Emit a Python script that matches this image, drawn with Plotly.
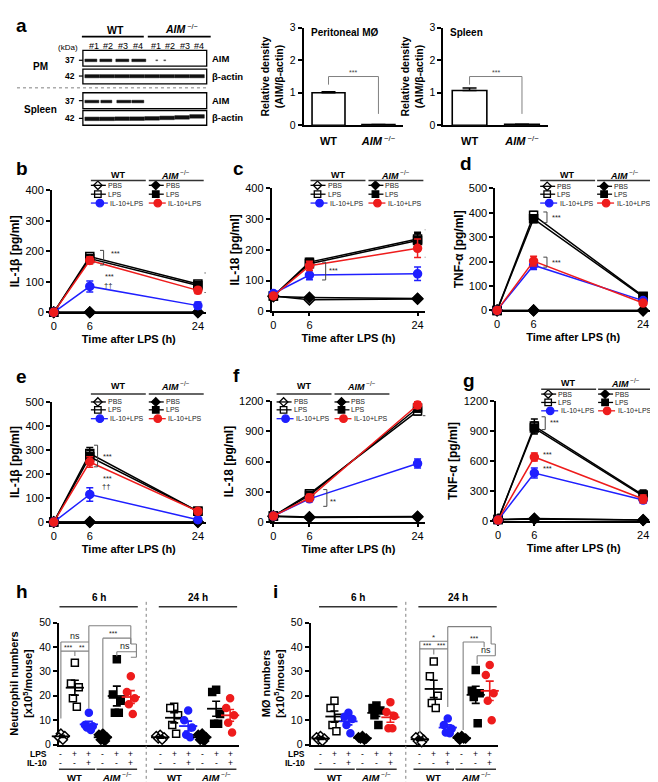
import plotly.graph_objects as go

W, H = 658, 782
FONT = "Arial, Liberation Sans, Helvetica, sans-serif"
BLACK = "#000000"
BLUE = "#1f1fff"
RED = "#ee1c1c"
GRAY = "#808080"

# ---------------- data ----------------
bar_groups = ["WT", "AIM-/-"]
pm_density = [1.00, 0.02]
pm_sem = [0.03, 0.0]
spleen_density = [1.07, 0.03]
spleen_sem = [0.08, 0.0]

times = [0, 6, 24]
series = ["WT PBS", "WT LPS", "WT IL-10+LPS", "AIM PBS", "AIM LPS", "AIM IL-10+LPS"]

# panel b: IL-1beta
b_mean = [[0, 0, 0], [0, 183, 93], [0, 85, 22], [0, 0, 0], [0, 176, 88], [0, 170, 72]]
b_sem = [[0, 0, 0], [0, 10, 8], [0, 18, 12], [0, 0, 0], [0, 10, 8], [0, 12, 10]]
# panel c: IL-18
c_mean = [[50, 38, 40], [50, 160, 235], [58, 118, 122], [48, 45, 42], [50, 155, 230], [50, 148, 205]]
c_sem = [[3, 3, 3], [3, 12, 22], [3, 15, 22], [3, 3, 3], [3, 12, 22], [3, 15, 30]]
# panel d: TNF-alpha
d_mean = [[0, 0, 0], [0, 390, 58], [0, 185, 40], [0, 0, 0], [0, 375, 55], [0, 202, 30]]
d_sem = [[0, 0, 0], [0, 15, 6], [0, 18, 8], [0, 0, 0], [0, 15, 6], [0, 20, 8]]
# panel e: IL-1beta
e_mean = [[0, 0, 0], [0, 285, 45], [0, 115, 10], [0, 0, 0], [0, 272, 45], [0, 250, 45]]
e_sem = [[0, 0, 0], [0, 25, 8], [0, 28, 3], [0, 0, 0], [0, 25, 8], [0, 22, 10]]
# panel f: IL-18
f_mean = [[60, 50, 55], [60, 280, 1100], [60, 230, 580], [55, 45, 50], [60, 265, 1130], [60, 240, 1160]]
f_sem = [[5, 10, 10], [5, 30, 40], [5, 25, 45], [5, 10, 10], [5, 30, 40], [5, 35, 35]]
# panel g: TNF-alpha
g_mean = [[15, 25, 10], [15, 950, 260], [10, 480, 210], [15, 20, 10], [15, 930, 250], [10, 640, 220]]
g_sem = [[5, 5, 3], [5, 70, 50], [5, 50, 30], [5, 5, 3], [5, 60, 50], [5, 40, 40]]

# panels h, i: individual mice, group order = series
lps_signs = ["-", "+", "+"]
il10_signs = ["-", "-", "+"]
neut_6h = [[4.5, 4, 3.5, 3, 2], [33.5, 25, 23.5, 19, 15.5], [13, 8, 7.5, 7, 6],
           [4.5, 4, 3, 2, 1.5], [35, 20.5, 18, 13, 13], [28, 21.5, 19, 16.5, 12.5]]
neut_24h = [[4, 3.5, 3, 2.5, 2], [15.5, 15, 12, 8, 4.5], [14, 10, 7, 4, 3],
            [4.5, 4, 3, 2, 1.5], [22.5, 21.5, 12.5, 8.5, 8.5], [19, 15, 12, 9, 5]]
mac_6h = [[3.5, 3, 2.5, 2, 1.5], [18, 15, 11, 8, 5.5], [13, 11.4, 10.5, 8, 4.7],
          [3.5, 3, 2.5, 2.5, 2], [16, 15, 14, 12, 8], [17.4, 13.4, 11.7, 6.7, 6.7]]
mac_24h = [[3.5, 3, 2, 1.5, 1], [34, 28, 20, 17, 15], [10.7, 8, 6.5, 5, 4.7],
           [3.5, 3, 2.5, 2, 2.5], [30.6, 22.1, 21, 19.5, 8.7], [32.6, 28.5, 21, 18, 10]]

# ---------------- helpers ----------------
fig = go.Figure()
layout = {}
shapes = []
annotations = []


def xdom(x0, x1):
    return [x0 / W, x1 / W]


def ydom(top, bottom):
    return [1 - bottom / H, 1 - top / H]


def PX(x):
    return x / W


def PY(y):
    return 1 - y / H


def text(x, y, s, size=9, color=BLACK, xanchor="center", yanchor="middle",
         xref="paper", yref="paper", textangle=0):
    if xref == "paper":
        x = PX(x)
    if yref == "paper":
        y = PY(y)
    annotations.append(dict(x=x, y=y, xref=xref, yref=yref, text=s, showarrow=False,
                            font=dict(family=FONT, size=size, color=color),
                            xanchor=xanchor, yanchor=yanchor, textangle=textangle))


def seg(x0, y0, x1, y1, color=BLACK, width=1.0, dash="solid", xref="paper", yref="paper"):
    if xref == "paper":
        x0, x1 = PX(x0), PX(x1)
    if yref == "paper":
        y0, y1 = PY(y0), PY(y1)
    shapes.append(dict(type="line", x0=x0, y0=y0, x1=x1, y1=y1, xref=xref, yref=yref,
                       line=dict(color=color, width=width, dash=dash)))


def rect(x0, y0, x1, y1, fill=None, line_color=BLACK, width=1.0):
    shapes.append(dict(type="rect", xref="paper", yref="paper", x0=PX(x0), x1=PX(x1),
                       y0=PY(y1), y1=PY(y0), fillcolor=fill if fill else "rgba(0,0,0,0)",
                       line=dict(color=line_color, width=width)))


def names(n):
    s = "" if n == 1 else str(n)
    return "xaxis" + s, "yaxis" + s, "x" + s, "y" + s


def axis_style(**kw):
    d = dict(showline=True, linecolor=BLACK, linewidth=1.8, ticks="outside", ticklen=4,
             tickwidth=1.5, tickcolor=BLACK, showgrid=False, zeroline=False,
             tickfont=dict(family=FONT, size=11, color=BLACK), layer="below traces",
             fixedrange=True)
    d.update(kw)
    return d


AIM_HTML = "<b><i>AIM</i></b><sup> −/−</sup>"

STYLE = [
    dict(color=BLACK, symbol="diamond", fill="white"),
    dict(color=BLACK, symbol="square", fill="white"),
    dict(color=BLUE, symbol="circle", fill=BLUE),
    dict(color=BLACK, symbol="diamond", fill=BLACK),
    dict(color=BLACK, symbol="square", fill=BLACK),
    dict(color=RED, symbol="circle", fill=RED),
]

# ---------------- panel a: blots ----------------
text(5, 12, "<b>a</b>", size=19, xanchor="left")
text(107, 16, "<b>WT</b>", size=10.5)
seg(73, 23, 135, 23, width=1.8)
text(173, 15, AIM_HTML, size=10.5)
seg(139, 23, 202, 23, width=1.8)
for lx, lab in zip([85, 99, 114, 129, 147, 161, 176, 190], ["#1", "#2", "#3", "#4"] * 2):
    text(lx, 32, lab, size=9)
text(59, 34, "(kDa)", size=8)
# boxes
for (y0, y1, mw, lab, side) in [(37, 53, 47, "37", "AIM"), (56, 71, 63, "42", "β-actin"),
                                 (80, 96, 88, "37", "AIM"), (98, 113, 106, "42", "β-actin")]:
    rect(74, y0, 198, y1, width=1.3)
    seg(70, mw, 74, mw, width=1.2)
    text(68, mw, "<b>" + lab + "</b>", size=8.5, xanchor="right")
    text(201, (y0 + y1) / 2, "<b>" + side + "</b>", size=9.5, xanchor="left")
text(32, 53, "<b>PM</b>", size=10)
text(32, 97, "<b>Spleen</b>", size=10)
seg(8, 75, 198, 75, color=GRAY, width=1, dash="dot")
# bands
for bx0, bx1 in [(76, 88), (91, 103), (107, 120), (123, 137)]:
    rect(bx0, 45.8, bx1, 48.4, fill="#111", line_color="#111", width=0.5)
for bx0, bx1 in [(147, 149), (155, 157)]:
    rect(bx0, 46.5, bx1, 47.6, fill="#444", line_color="#444", width=0.3)
for i in range(8):
    bx0 = 76 + i * 15
    rect(bx0, 61.6, bx0 + 14.6, 64.8, fill="#111", line_color="#111", width=0.5)
for bx0, bx1 in [(76, 90), (92, 103), (108, 122), (123, 135)]:
    rect(bx0, 87.6, bx1, 90.2, fill="#111", line_color="#111", width=0.5)
for i, yc in enumerate([106.5, 106.5, 106.3, 106.3, 106, 105.5, 105, 104]):
    bx0 = 76 + i * 15
    rect(bx0, yc - 1.8, bx0 + 14.6, yc + 1.8, fill="#111", line_color="#111", width=0.5)

# ---------------- panel a: bar charts ----------------
for n, vals, errs, (x0, x1), title, tx in [
        (1, pm_density, pm_sem, (295, 395), "Peritoneal MØ", 300),
        (2, spleen_density, spleen_sem, (435, 540), "Spleen", 440)]:
    xa, ya, xr, yr = names(n)
    layout[xa] = axis_style(domain=xdom(x0, x1), anchor=yr, range=[-0.5, 1.5],
                            tickvals=[0, 1], ticktext=["<b>WT</b>", AIM_HTML], ticks="",
                            ticklabelstandoff=5)
    layout[ya] = axis_style(domain=ydom(14, 113), anchor=xr, range=[0, 3],
                            tickvals=[0, 1, 2, 3], tickfont=dict(family=FONT, size=10.5, color=BLACK),
                            title=dict(text="<b>Relative density<br>(AIM/β-actin)</b>",
                                       font=dict(family=FONT, size=10.5, color=BLACK), standoff=4))
    fig.add_bar(x=[0, 1], y=vals, width=0.66, xaxis=xr, yaxis=yr, showlegend=False,
                marker=dict(color="white", line=dict(color=BLACK, width=1.6)),
                error_y=dict(type="data", array=errs, arrayminus=[0, 0], symmetric=False,
                             color=BLACK, thickness=1.5, width=7))
    seg(0, 1.25, 0, 1.5, color=GRAY, xref=xr, yref=yr)
    seg(0, 1.5, 1, 1.5, color=GRAY, xref=xr, yref=yr)
    seg(1, 1.5, 1, 0.35, color=GRAY, xref=xr, yref=yr)
    text(0.5, 1.62, "***", size=7, color="#444", xref=xr, yref=yr)
    text(tx, 19, "<b>" + title + "</b>", size=10, xanchor="left")

# ---------------- panels b-g: time courses ----------------
line_panels = [
    (3, b_mean, b_sem, 43, 197, 179, 303, 400, 100, "IL-1β [pg/ml]"),
    (4, c_mean, c_sem, 263, 417, 177, 302, 400, 100, "IL-18 [pg/ml]"),
    (5, d_mean, d_sem, 487, 643, 177, 301, 500, 100, "TNF-α [pg/ml]"),
    (6, e_mean, e_sem, 43, 197, 394, 516, 500, 100, "IL-1β [pg/ml]"),
    (7, f_mean, f_sem, 263, 417, 393, 516, 1200, 300, "IL-18 [pg/ml]"),
    (8, g_mean, g_sem, 488, 643, 393, 515, 1200, 300, "TNF-α [pg/ml]"),
]
draw_order = [0, 3, 1, 4, 2, 5]
for n, means, sems, x0, x1, ytop, ybot, ymax, dt, ytitle in line_panels:
    xa, ya, xr, yr = names(n)
    layout[xa] = axis_style(domain=xdom(x0, x1), anchor=yr, range=[-0.3, 25.3],
                            tickvals=times, ticklen=3,
                            title=dict(text="<b>Time after LPS (h)</b>",
                                       font=dict(family=FONT, size=11, color=BLACK), standoff=4))
    layout[ya] = axis_style(domain=ydom(ytop, ybot), anchor=xr, range=[0, ymax],
                            tickvals=list(range(0, ymax + 1, dt)),
                            title=dict(text="<b>" + ytitle + "</b>",
                                       font=dict(family=FONT, size=12, color=BLACK), standoff=3))
    for k in draw_order:
        st = STYLE[k]
        fig.add_scatter(x=times, y=means[k], mode="lines+markers", xaxis=xr, yaxis=yr,
                        name=series[k], showlegend=False, cliponaxis=False,
                        line=dict(color=st["color"], width=1.5),
                        marker=dict(symbol=st["symbol"], size=8, color=st["fill"],
                                    line=dict(color=st["color"], width=1.5)),
                        error_y=dict(type="data", array=sems[k], color=st["color"],
                                     thickness=1.5, width=3.5))

# legends (drawn in an overlay pixel-space axis)
layout["xaxis11"] = dict(domain=[0, 1], range=[0, W], visible=False, fixedrange=True, anchor="y11")
layout["yaxis11"] = dict(domain=[0, 1], range=[H, 0], visible=False, fixedrange=True, anchor="x11")
legends = [
    (82, 140, 164, 169, [174, 183, 192]),
    (302, 360, 164, 169, [174, 183, 192]),
    (532, 589, 164, 169, [175, 183, 192]),
    (82, 140, 378, 386, [394, 402, 411]),
    (268, 326, 378, 386, [394, 402, 411]),
    (533, 590, 375, 381, [386, 394.5, 403]),
]
leg_labels = ["PBS", "LPS", "IL-10+LPS"]
leg_pts = {k: ([], []) for k in range(6)}
for xwt, xaim, yh, yl, rows in legends:
    for xc, head in [(xwt, "<b>WT</b>"), (xaim, AIM_HTML)]:
        text(xc + 27, yh, head, size=9)
        seg(xc, yl, xc + 55, yl, color="#333", width=1.5)
    for k in range(6):
        xc = xwt if k < 3 else xaim
        row = k % 3
        if row < 2:
            mx, lend, tx = xc + 7, xc + 15, xc + 15
        else:
            mx, lend, tx = xc + 9, xc + 17, xc + 17.5
        seg(xc, rows[row], lend, rows[row], color=STYLE[k]["color"], width=1.3)
        leg_pts[k][0].append(mx)
        leg_pts[k][1].append(rows[row])
        text(tx, rows[row], leg_labels[row], size=7, color="#222", xanchor="left")
for k in range(6):
    st = STYLE[k]
    fig.add_scatter(x=leg_pts[k][0], y=leg_pts[k][1], mode="markers", xaxis="x11", yaxis="y11",
                    showlegend=False, hoverinfo="skip",
                    marker=dict(symbol=st["symbol"], size=6.5 if k % 3 < 2 else 7.5, color=st["fill"],
                                line=dict(color=st["color"], width=1.3)))


def bracket(n, x, y0, y1, arm=0.6):
    _, _, xr, yr = names(n)
    seg(x, y0, x, y1, color="#444", xref=xr, yref=yr)
    seg(x - arm, y0, x, y0, color="#444", xref=xr, yref=yr)
    seg(x - arm, y1, x, y1, color="#444", xref=xr, yref=yr)


def star(n, x, y, s, size=7.5):
    _, _, xr, yr = names(n)
    text(x, y, s, size=size, color="#222", xref=xr, yref=yr)


# b
bracket(3, 8.3, 155, 203); star(3, 10.3, 192, "***")
star(3, 9.3, 116, "***"); star(3, 9.0, 88, "††")
bracket(3, 25.7, 65, 129); star(3, 27.0, 92, "**")
star(3, 25.9, 32, "††")
# c
bracket(4, 8.7, 102, 160); star(4, 10.0, 132, "***")
bracket(4, 25.8, 176, 265); star(4, 27.0, 222, "***")
star(4, 26.1, 150, "**"); star(4, 26.1, 125, "††")
# d
bracket(5, 8.2, 359, 403); star(5, 9.8, 381, "***")
bracket(5, 8.2, 177, 218); star(5, 9.7, 198, "***")
# e
bracket(6, 7.3, 230, 320); star(6, 8.9, 272, "***")
star(6, 8.9, 182, "***"); star(6, 8.7, 150, "††")
# f
bracket(7, 8.9, 156, 322); star(7, 9.9, 205, "**")
bracket(7, 25.5, 1054, 1230); star(7, 26.7, 1141, "***")
star(7, 25.8, 665, "***"); star(7, 25.8, 572, "†††")
# g
bracket(8, 7.8, 914, 1042); star(8, 9.3, 982, "***")
star(8, 8.1, 662, "***"); star(8, 8.1, 524, "***")
bracket(8, 25.9, 128, 295); star(8, 27.1, 216, "**")

# panel letters
for lab, x, y in [("b", 5, 157), ("c", 222, 157), ("d", 450, 152), ("e", 5, 368),
                  ("f", 222, 367), ("g", 453, 372), ("h", 5, 587), ("i", 262, 587)]:
    text(x, y, "<b>" + lab + "</b>", size=19, xanchor="left")

# ---------------- panels h, i: dot plots ----------------
JIT = [0.0, -0.28, 0.28, -0.14, 0.14]


def gpos(t, k):
    return t * 7.1 + (k // 3) * 3 + (k % 3)


dot_panels = [
    (9, [neut_6h, neut_24h], 50, 230, -0.14, "Neutrophil numbers", 40),
    (10, [mac_6h, mac_24h], 302, 490, -0.71, "MØ numbers", 298),
]
for n, blocks, x0, x1, xlo, ytitle, labx in dot_panels:
    xa, ya, xr, yr = names(n)
    layout[xa] = axis_style(domain=xdom(x0, x1), anchor=yr, range=[xlo, 12.71],
                            showticklabels=False, ticks="")
    layout[ya] = axis_style(domain=ydom(618, 742), anchor=xr, range=[0, 50],
                            tickvals=[0, 10, 20, 30, 40, 50], tickfont=dict(family=FONT, size=10.5, color=BLACK),
                            title=dict(text="<b>" + ytitle + "<br>[x10<sup>5</sup>/mouse]</b>",
                                       font=dict(family=FONT, size=11, color=BLACK), standoff=4))
    for t, block in enumerate(blocks):
        for k in range(6):
            st = STYLE[k]
            pts = block[k]
            xs = [gpos(t, k) + JIT[j % 5] for j in range(len(pts))]
            fig.add_scatter(x=xs, y=pts, mode="markers", xaxis=xr, yaxis=yr, showlegend=False,
                            cliponaxis=False,
                            marker=dict(symbol=st["symbol"], size=7, color=st["fill"],
                                        line=dict(color=st["color"], width=1.5)))
            m = sum(pts) / len(pts)
            sd = (sum((v - m) ** 2 for v in pts) / (len(pts) - 1)) ** 0.5
            se = sd / len(pts) ** 0.5
            fig.add_scatter(x=[gpos(t, k)], y=[m], mode="markers", xaxis=xr, yaxis=yr,
                            showlegend=False, cliponaxis=False,
                            marker=dict(symbol="line-ew", size=13,
                                        line=dict(color=st["color"], width=1.8)),
                            error_y=dict(type="data", array=[se], color=st["color"],
                                         thickness=1.6, width=4))
            # treatment signs
            text(gpos(t, k), 751.5, lps_signs[k % 3], size=8.5, xref=xr)
            text(gpos(t, k), 761, il10_signs[k % 3], size=8.5, xref=xr)
        # genotype labels
        for g, lab in enumerate(["<b>WT</b>", AIM_HTML]):
            p0 = gpos(t, g * 3)
            seg(p0 - 0.45, 767, p0 + 2.45, 767, color="#333", width=1.3, xref=xr)
            text(p0 + 1, 775, lab, size=9.5, xref=xr)
        # time headers
        seg(t * 7.1 - 0.1, 602, t * 7.1 + 5.5, 602, color="#333", width=1.5, xref=xr)
        text(t * 7.1 + 2.7, 593, "<b>%s h</b>" % ("6" if t == 0 else "24"), size=10, xref=xr)
    text(labx, 751.5, "<b>LPS</b>", size=8.5, xanchor="right")
    text(labx, 761, "<b>IL-10</b>", size=8.5, xanchor="right")
    seg(6.1, 597, 6.1, 782, color=GRAY, width=1, dash="dot", xref=xr)

# brackets h
HB = [(0, 42, 2, 42), (0, 42, 0, 10.7), (0, 38.3, 2, 38.3), (1, 38.3, 1, 36.3),
      (2, 48.7, 2, 14.8), (2, 48.7, 5, 48.7), (5, 48.7, 5, 41.2),
      (3, 43.6, 5, 43.6), (3, 43.6, 3, 6.7), (5, 43.6, 5, 41.2),
      (5, 41.2, 5.4, 41.2), (5.4, 41.2, 5.4, 35.8), (4, 38.0, 5.4, 38.0), (4, 38, 4, 36.2),
      (5, 35.8, 5.4, 35.8)]
for a0, b0, a1, b1 in HB:
    seg(a0, b0, a1, b1, color=GRAY, width=1.1, xref="x9", yref="y9")
star(9, 1, 44.6, "ns", size=9); star(9, 0.5, 39.8, "***", 7); star(9, 1.5, 39.8, "**", 7)
star(9, 3.7, 45.3, "***", 7); star(9, 4.55, 40.4, "ns", 9); star(9, 3.5, 50.6, "††", 8)

# brackets i
o = 7.1
IB = [(o, 42.3, o + 2, 42.3), (o, 42.3, o, 4.7), (o, 39.2, o + 2, 39.2), (o + 1, 39.2, o + 1, 36.9),
      (o + 2, 48.3, o + 2, 15.4), (o + 2, 48.3, o + 5.1, 48.3), (o + 5.1, 48.3, o + 5.1, 41.2),
      (o + 3.1, 42, o + 4.6, 42), (o + 3.1, 42, o + 3.1, 6), (o + 4.6, 42, o + 4.6, 39.9),
      (o + 4.1, 36.4, o + 5.4, 36.4), (o + 4.1, 36.4, o + 4.1, 33),
      (o + 5.1, 41.2, o + 5.4, 41.2), (o + 5.4, 41.2, o + 5.4, 36.4)]
for a0, b0, a1, b1 in IB:
    seg(a0, b0, a1, b1, color=GRAY, width=1.1, xref="x10", yref="y10")
star(10, o + 1, 43.8, "*", 8); star(10, o + 0.5, 40.6, "***", 7); star(10, o + 1.5, 40.6, "***", 7)
star(10, o + 3.5, 50.2, "††", 8); star(10, o + 3.85, 43.4, "***", 7); star(10, o + 4.7, 38.6, "ns", 9)

layout.update(dict(width=W, height=H, margin=dict(l=0, r=0, t=0, b=0),
                   paper_bgcolor="white", plot_bgcolor="rgba(0,0,0,0)",
                   showlegend=False, shapes=shapes, annotations=annotations,
                   font=dict(family=FONT, color=BLACK)))
fig.update_layout(layout)
fig.write_html("out.html")
